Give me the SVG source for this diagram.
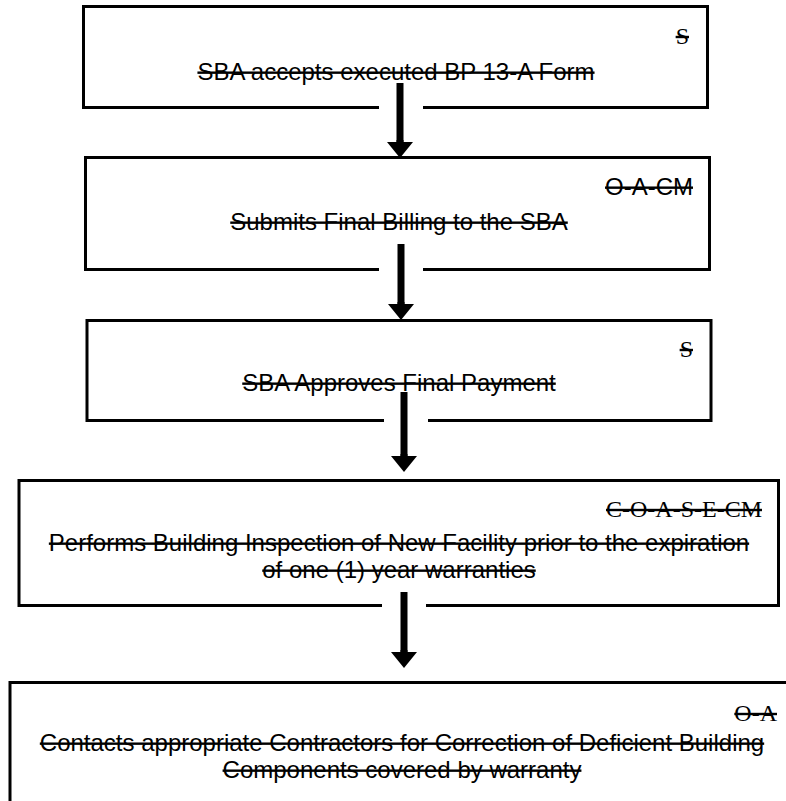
<svg xmlns="http://www.w3.org/2000/svg" width="786" height="801" viewBox="0 0 786 801">
  <style>
    .box { fill: #ffffff; stroke: #000000; stroke-width: 3; }
    .main { font-family: "Liberation Sans", Arial, sans-serif; font-size: 24px; fill: #000; text-anchor: middle; text-decoration: line-through; }
    .lab { font-family: "Liberation Serif", "Times New Roman", serif; font-size: 24px; fill: #000; text-anchor: end; text-decoration: line-through; }
    .labs { font-family: "Liberation Sans", Arial, sans-serif; font-size: 24px; fill: #000; text-anchor: end; text-decoration: line-through; }
    .gap { fill: #ffffff; stroke: none; }
    .shaft { stroke: #000000; stroke-width: 7; fill: none; }
  </style>
  <defs>
    <marker id="head" viewBox="0 0 16 26" refX="1" refY="13" markerWidth="16" markerHeight="26" markerUnits="userSpaceOnUse" orient="auto">
      <path d="M0,0 L16,13 L0,26 Z" fill="#000"/>
    </marker>
  </defs>
  <rect width="786" height="801" fill="#ffffff"/>

  <g id="node1">
    <rect class="box" x="83.5" y="6.5" width="624" height="101"/>
    <text class="lab" x="689" y="44">S</text>
    <text class="main" x="396" y="80">SBA accepts executed BP 13-A Form</text>
  </g>
  <g id="node2">
    <rect class="box" x="85.5" y="157.5" width="624" height="112"/>
    <text class="labs" x="693" y="195">O-A-CM</text>
    <text class="main" x="399" y="230">Submits Final Billing to the SBA</text>
  </g>
  <g id="node3">
    <rect class="box" x="87" y="320.5" width="624" height="100"/>
    <text class="lab" x="693" y="357">S</text>
    <text class="main" x="399" y="391">SBA Approves Final Payment</text>
  </g>
  <g id="node4">
    <rect class="box" x="19" y="480.5" width="759.5" height="125"/>
    <text class="lab" x="762" y="517">C-O-A-S-E-CM</text>
    <text class="main" x="399" y="551">Performs Building Inspection of New Facility prior to the expiration</text>
    <text class="main" x="399" y="578">of one (1) year warranties</text>
  </g>
  <g id="node5">
    <rect class="box" x="10" y="682.5" width="784" height="130"/>
    <text class="lab" x="777" y="721">O-A</text>
    <text class="main" x="402" y="751">Contacts appropriate Contractors for Correction of Deficient Building</text>
    <text class="main" x="402" y="778">Components covered by warranty</text>
  </g>

  <g id="connectors">
    <rect class="gap" x="379" y="104" width="44" height="8"/>
    <line class="shaft" x1="400" y1="83" x2="400" y2="143"/>
    <rect class="gap" x="379" y="266" width="44" height="8"/>
    <line class="shaft" x1="401" y1="244" x2="401" y2="305"/>
    <rect class="gap" x="384" y="416" width="44" height="8"/>
    <line class="shaft" x1="404" y1="392" x2="404" y2="457"/>
    <rect class="gap" x="382" y="601" width="44" height="8"/>
    <line class="shaft" x1="404" y1="592" x2="404" y2="653"/>
    <line class="shaft" x1="400" y1="140" x2="400" y2="143" marker-end="url(#head)"/>
    <line class="shaft" x1="401" y1="302" x2="401" y2="305" marker-end="url(#head)"/>
    <line class="shaft" x1="404" y1="454" x2="404" y2="457" marker-end="url(#head)"/>
    <line class="shaft" x1="404" y1="650" x2="404" y2="653" marker-end="url(#head)"/>
  </g>
</svg>
